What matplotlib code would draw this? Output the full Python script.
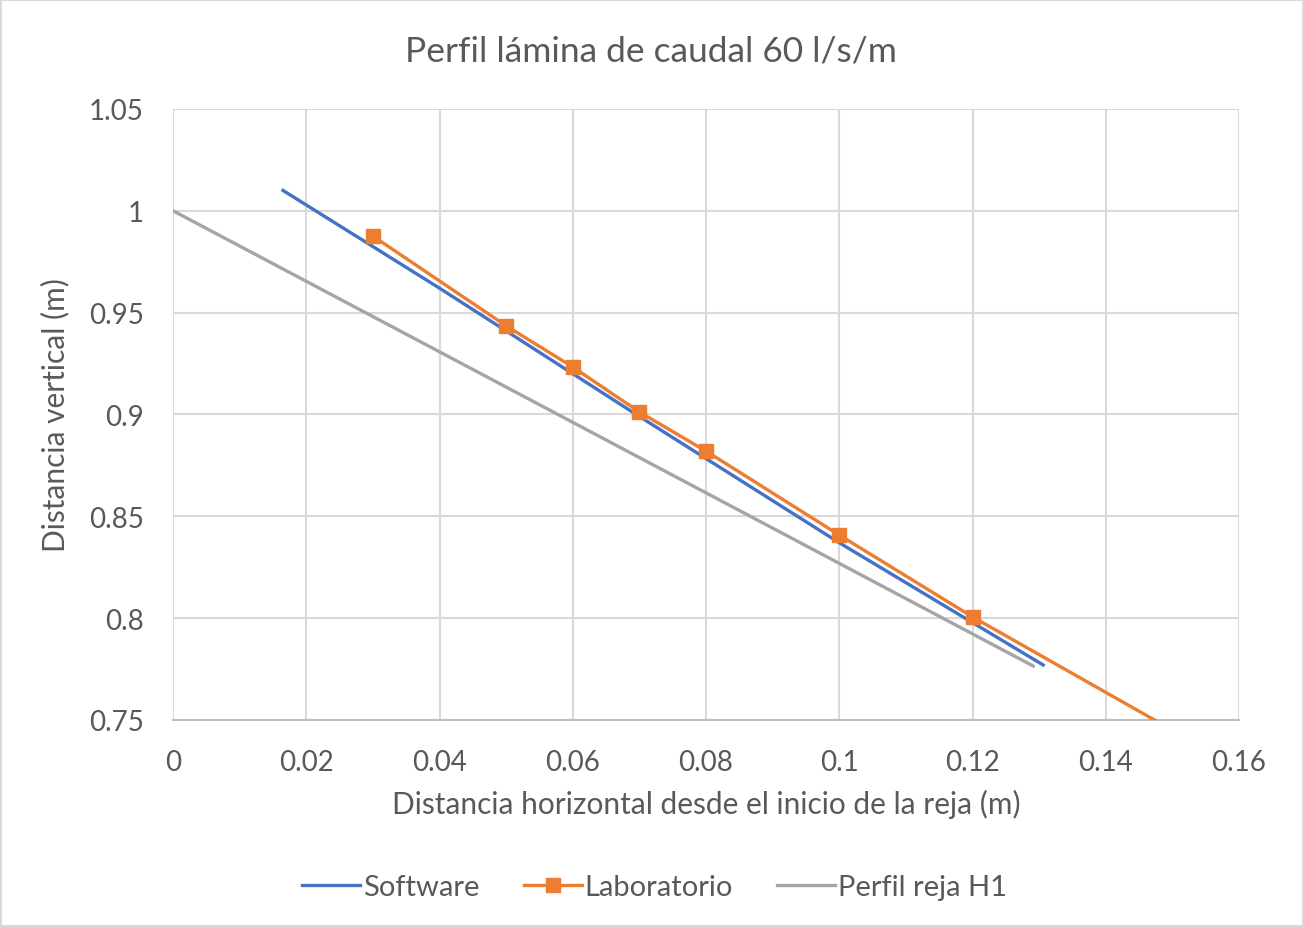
import matplotlib.pyplot as plt
from matplotlib.patches import Rectangle

plt.rcParams['font.family'] = ['Lato', 'DejaVu Sans']

# datos
soft_x = [0.0165, 0.04, 0.07, 0.10, 0.1306]
soft_y = [1.010, 0.962, 0.899, 0.837, 0.777]

lab_x = [0.03, 0.05, 0.06, 0.07, 0.08, 0.10, 0.12, 0.15]
lab_y = [0.9876, 0.9435, 0.9233, 0.9012, 0.882, 0.8408, 0.8006, 0.745]

reja_x = [0.0, 0.1291]
reja_y = [1.0, 0.7765]

xticks = [0, 0.02, 0.04, 0.06, 0.08, 0.1, 0.12, 0.14, 0.16]
xlabels = ['0', '0.02', '0.04', '0.06', '0.08', '0.1', '0.12', '0.14', '0.16']
yticks = [0.75, 0.8, 0.85, 0.9, 0.95, 1.0, 1.05]
ylabels = ['0.75', '0.8', '0.85', '0.9', '0.95', '1', '1.05']

txt = '#595959'
grid = '#d9d9d9'

fig = plt.figure(figsize=(13.04, 9.28), dpi=100)
fig.patches.append(Rectangle((0.001, 0.001), 0.998, 0.998, transform=fig.transFigure,
                             fill=False, edgecolor='#d9d9d9', linewidth=1.5))
ax = fig.add_axes([0.1327, 0.2231, 0.8175, 0.6584])

ax.plot(soft_x, soft_y, color='#4472C4', lw=2.4, label='Software', zorder=3)
ax.plot(lab_x, lab_y, color='#ED7D31', lw=2.4, marker='s', markersize=10,
        label='Laboratorio', zorder=4)
ax.plot(reja_x, reja_y, color='#A5A5A5', lw=2.4, label='Perfil reja H1', zorder=2)

ax.set_xlim(0, 0.16)
ax.set_ylim(0.75, 1.05)
ax.set_xticks(xticks)
ax.set_xticklabels(xlabels)
ax.set_yticks(yticks)
ax.set_yticklabels(ylabels)
ax.tick_params(axis='y', length=0, labelsize=20, labelcolor=txt, pad=21)
ax.tick_params(axis='x', length=0, labelsize=20, labelcolor=txt, pad=21)
ax.grid(True, color=grid, lw=1.5)
ax.set_axisbelow(True)
for s in ['top', 'right', 'left']:
    ax.spines[s].set_visible(False)
ax.spines['bottom'].set_color('#bfbfbf')
ax.spines['bottom'].set_linewidth(1.5)

fig.text(0.499, 0.945, 'Perfil lámina de caudal 60 l/s/m', fontsize=25.5,
         color=txt, ha='center', va='center')
ax.set_xlabel('Distancia horizontal desde el inicio de la reja (m)', fontsize=21.5,
              color=txt, labelpad=10)
ax.set_ylabel('Distancia vertical (m)', fontsize=21.5, color=txt, labelpad=14)

fig.legend(loc='center', bbox_to_anchor=(0.502, 0.043), ncol=3, frameon=False,
           fontsize=21, labelcolor=txt, handlelength=2.0, handletextpad=0.1,
           columnspacing=1.5)

fig.savefig('out.png', dpi=100)
